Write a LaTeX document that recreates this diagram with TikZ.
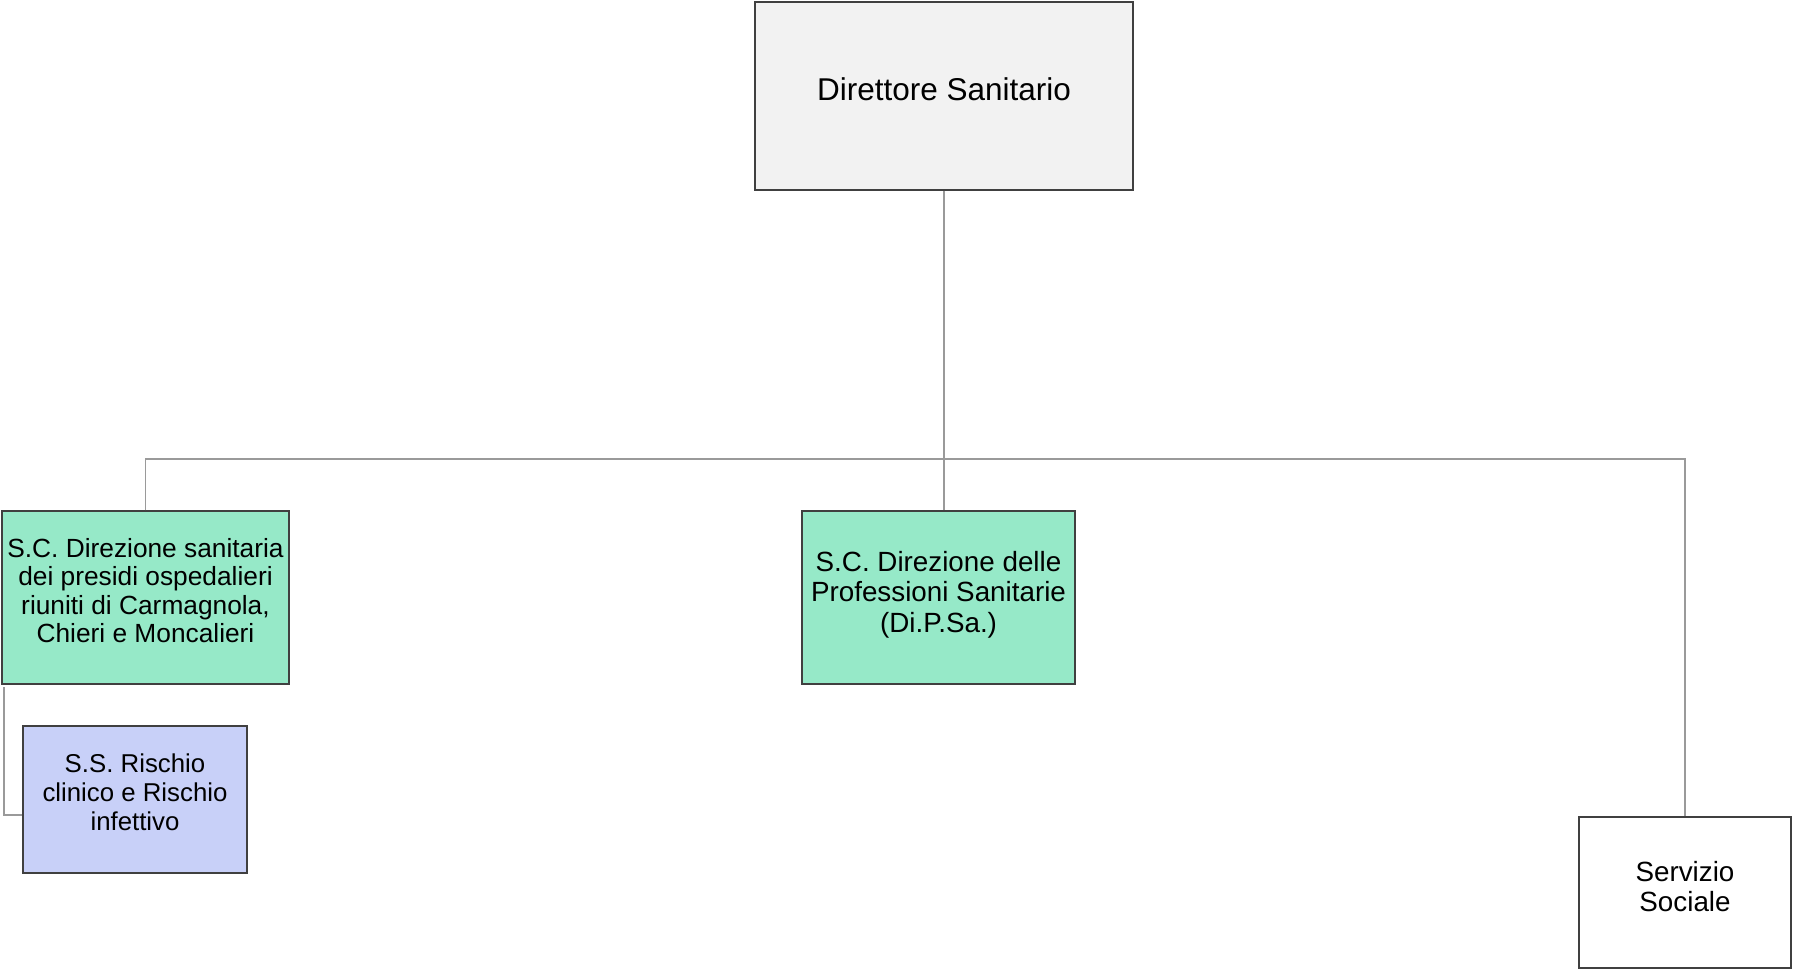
\documentclass[tikz,border=0pt]{standalone}
\usepackage{fontspec}
\setmainfont{Liberation Sans}
\definecolor{topfill}{HTML}{F2F2F2}
\definecolor{unitgreen}{HTML}{96E9C8}
\definecolor{subviolet}{HTML}{C8D0F8}
\definecolor{boxline}{HTML}{404040}
\definecolor{linkgray}{HTML}{9A9A9A}
\begin{document}
\begin{tikzpicture}[x=1pt,y=-1pt,
  box/.style={draw=boxline, line width=1.2pt, inner sep=0pt},
  caption/.style={inner sep=0pt, align=center, text=black},
  link/.style={draw=linkgray, line width=1.2pt},
  bigtext/.style={font=\fontsize{31.5}{36}\selectfont},
  midtext/.style={font=\fontsize{27.8}{30.5}\selectfont},
  smalltext/.style={font=\fontsize{26.3}{28.5}\selectfont},
]
\useasboundingbox (0,0) rectangle (1793,969);

% boxes of the chart
\node[box, fill=topfill, minimum width=378, minimum height=188] (dir) at (944,96) {};
\node[box, fill=unitgreen, minimum width=287, minimum height=173] (left) at (145.5,597.5) {};
\node[box, fill=unitgreen, minimum width=273, minimum height=173] (mid) at (938.5,597.5) {};
\node[box, fill=subviolet, minimum width=224, minimum height=147] (pur) at (135,799.5) {};
\node[box, fill=white, minimum width=212, minimum height=151] (serv) at (1685,892.5) {};

% their captions, set a little above the middle of each box
\node[caption, bigtext, yshift=7] (dirtxt) at (dir.center) {Direttore Sanitario};
\node[caption, smalltext, yshift=7] (lefttxt) at (left.center)
  {S.C. Direzione sanitaria\\dei presidi ospedalieri\\riuniti di Carmagnola,\\Chieri e Moncalieri};
\node[caption, midtext, yshift=3] (midtxt) at (mid.center)
  {S.C. Direzione delle\\Professioni Sanitarie\\(Di.P.Sa.)};
\node[caption, font=\fontsize{25.8}{29}\selectfont, yshift=7] (purtxt) at (pur.center)
  {S.S. Rischio\\clinico e Rischio\\infettivo};
\node[caption, midtext, yshift=6] (servtxt) at (serv.center) {Servizio\\Sociale};

% connectors
\coordinate (bus) at (944,459);
\coordinate (sub) at (4,687);
\draw[link] (dir.south) -- (dir.south |- mid.north);
\draw[link] (left.north) |- (bus) -| (serv.north);
\draw[link] (sub) |- (pur.west |- 0,815);
\end{tikzpicture}
\end{document}
